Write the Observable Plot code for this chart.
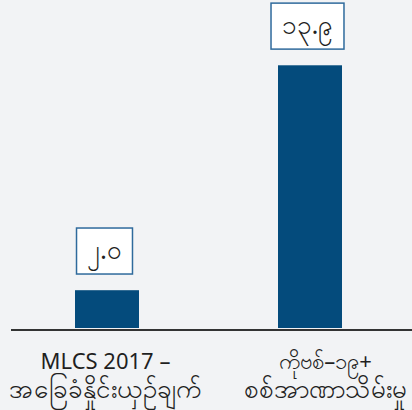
<!DOCTYPE html>
<html><head><meta charset="utf-8">
<script src="https://cdn.jsdelivr.net/npm/d3@7"></script>
<script src="https://cdn.jsdelivr.net/npm/@observablehq/plot@0.6"></script>
<style>
html,body{margin:0;padding:0;background:#f2f3f5;}
</style></head><body><div id="chart"></div>
<script>
const categories = ["MLCS 2017 –\nအခြေခံနှိုင်းယှဉ်ချက်", "ကိုဗစ်–၁၉+\nစစ်အာဏာသိမ်းမှု"];
const values = [2.0, 13.9];
const valueLabels = ["၂.၀", "၁၃.၉"];
const data = categories.map((c, i) => ({category: c, value: values[i], label: valueLabels[i]}));

const axisStyle = {tickSize: 0, tickPadding: 20, fontSize: 22, lineHeight: 1.32};
const chart = Plot.plot({
  width: 412, height: 410,
  marginLeft: 11, marginRight: 0, marginTop: 44.5, marginBottom: 82,
  style: {background: "#f2f3f5", fontFamily: "'Noto Sans', sans-serif", color: "#1f1f1f"},
  x: {domain: categories, paddingInner: 0.6855, paddingOuter: 0.328, align: 0.479, label: null, axis: null},
  y: {domain: [0, 15], axis: null},
  marks: [
    Plot.barY(data, {x: "category", y: "value", fill: "#044b7c"}),
    Plot.ruleY([0], {stroke: "#333", strokeWidth: 2, dy: 1.5}),
    Plot.text(data, {x: "category", y: "value", text: "label", dy: -40, dx: -3, fontSize: 26, fill: "#1f1f1f"}),
    Plot.axisX([categories[0]], {...axisStyle, dx: -2}),
    Plot.axisX([categories[1]], {...axisStyle, dx: 15})
  ]
});
document.getElementById("chart").appendChild(chart);
d3.select(chart).selectAll("text")
  .filter(function() { return valueLabels.includes(this.textContent); })
  .each(function() {
    const b = this.getBBox();
    const padX = 10.5, padY = 3;
    d3.select(this.parentNode).insert("rect", () => this)
      .attr("x", b.x - padX).attr("y", b.y - padY)
      .attr("width", b.width + 2 * padX).attr("height", b.height + 2 * padY)
      .attr("transform", this.getAttribute("transform"))
      .attr("fill", "white").attr("stroke", "#2f6a9c").attr("stroke-width", 1.5);
  });
d3.select(chart).selectAll("g[aria-label='x-axis tick label'] text tspan:nth-child(2)")
  .style("font-size", "26px").attr("dy", "29px");
</script></body></html>
